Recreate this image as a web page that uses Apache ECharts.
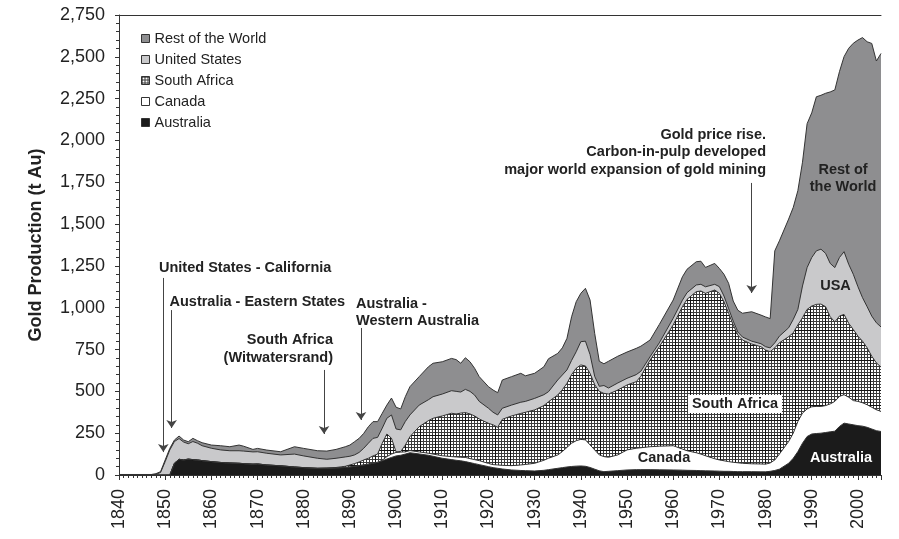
<!DOCTYPE html>
<html>
<head>
<meta charset="utf-8">
<script src="https://cdn.jsdelivr.net/npm/echarts@6/dist/echarts.min.js"></script>
<style>
  html, body { margin: 0; background: #fff; }
  #chart { width: 899px; height: 539px; }
</style>
</head>
<body>
<div id="chart"></div>
<script>
// years (value x axis), production in tonnes per layer
const years = [
  1840, 1847, 1848, 1849, 1850, 1851, 1852, 1853, 1854, 1855,
  1856, 1857, 1858, 1860, 1862, 1864, 1866, 1867, 1869, 1870,
  1872, 1875, 1878, 1880, 1883, 1885, 1887, 1889, 1890, 1891,
  1892, 1893, 1894, 1895, 1896, 1897, 1898, 1899, 1900, 1901,
  1902, 1903, 1905, 1907, 1908, 1910, 1912, 1913, 1914, 1915,
  1916, 1917, 1918, 1920, 1921, 1922, 1923, 1925, 1927, 1928,
  1930, 1932, 1933, 1935, 1936, 1937, 1938, 1939, 1940, 1941,
  1942, 1943, 1944, 1945, 1946, 1948, 1950, 1952, 1953, 1955,
  1957, 1960, 1962, 1963, 1965, 1966, 1967, 1969, 1970, 1971,
  1972, 1973, 1974, 1975, 1977, 1979, 1980, 1981, 1982, 1983,
  1985, 1986, 1987, 1988, 1989, 1990, 1991, 1992, 1993, 1994,
  1995, 1996, 1997, 1998, 1999, 2000, 2001, 2002, 2003, 2004,
  2005,
]
const australia = [
  0, 0, 0, 0, 0, 0, 70, 94, 90, 95,
  92, 90, 86, 80, 75, 72, 70, 68, 65, 66,
  60, 55, 48, 44, 40, 41, 42, 45, 48, 52,
  56, 60, 65, 70, 75, 85, 95, 105, 114, 118,
  125, 133, 126, 118, 112, 100, 92, 88, 85, 80,
  74, 68, 62, 50, 44, 40, 36, 30, 27, 26,
  24, 28, 32, 40, 44, 48, 51, 53, 54, 52,
  45, 35, 25, 20, 22, 26, 30, 32, 32, 32,
  31, 30, 29, 28, 27, 26, 25, 24, 23, 22,
  22, 21, 20, 20, 20, 19, 19, 22, 27, 35,
  70, 100, 140, 190, 230, 245, 248, 250, 254, 258,
  262, 290, 310, 305, 300, 295, 292, 285, 275, 265,
  260,
]
const canada = [
  0, 0, 0, 0, 0, 0, 0, 0, 0, 0,
  0, 0, 0, 0, 0, 0, 0, 0, 0, 0,
  0, 0, 0, 0, 0, 0, 0, 0, 0, 0,
  0, 0, 0, 0, 2, 3, 15, 20, 21, 19,
  13, 13, 12, 12, 13, 15, 18, 20, 21, 25,
  24, 24, 24, 19, 18, 20, 22, 26, 33, 37,
  46, 60, 68, 80, 96, 117, 139, 152, 159, 158,
  135, 115, 95, 90, 84, 94, 120, 128, 131, 137,
  141, 145, 126, 117, 106, 99, 90, 73, 67, 63,
  58, 55, 53, 50, 47, 47, 46, 50, 63, 90,
  130, 150, 180, 180, 165, 163, 162, 160, 161, 167,
  178, 180, 170, 160, 145, 145, 140, 135, 130, 125,
  120,
]
const southAfrica = [
  0, 0, 0, 0, 0, 0, 0, 0, 0, 0,
  0, 0, 0, 0, 0, 0, 0, 0, 0, 0,
  0, 0, 0, 0, 0, 0, 3, 7, 12, 16,
  22, 30, 35, 44, 48, 102, 135, 95, 3, 3,
  41, 83, 151, 195, 214, 238, 259, 257, 264, 268,
  267, 261, 249, 240, 238, 225, 275, 297, 308, 312,
  319, 327, 338, 358, 370, 383, 410, 433, 445, 442,
  428, 390, 380, 378, 378, 388, 388, 398, 427, 518,
  595, 722, 851, 905, 963, 975, 971, 1009, 996, 951,
  887, 821, 764, 737, 716, 701, 682, 665, 670, 665,
  627, 600, 577, 570, 595, 602, 610, 612, 591, 521,
  475, 480, 480, 442, 425, 390, 368, 340, 305, 280,
  265,
]
const unitedStates = [
  0, 0, 4, 15, 80, 150, 130, 124, 107, 92,
  108, 100, 89, 80, 75, 73, 75, 75, 73, 73,
  70, 65, 77, 70, 60, 53, 55, 56, 52, 52,
  57, 70, 90, 105, 100, 90, 94, 139, 137, 130,
  141, 130, 129, 125, 129, 131, 135, 135, 126, 139,
  135, 125, 105, 90, 75, 74, 66, 65, 67, 65,
  69, 65, 60, 90, 88, 80, 85, 99, 139, 148,
  112, 50, 30, 47, 36, 42, 40, 42, 30, 20,
  23, 40, 39, 40, 40, 40, 39, 34, 40, 34,
  28, 23, 18, 18, 17, 18, 20, 23, 30, 40,
  53, 80, 93, 190, 250, 290, 320, 328, 319, 319,
  325, 350, 375, 353, 330, 296, 260, 246, 240, 240,
  240,
]
const restOfWorld = [
  3, 3, 4, 5, 10, 9, 9, 15, 12, 12,
  19, 15, 18, 19, 25, 24, 34, 29, 15, 20,
  19, 19, 44, 45, 45, 49, 53, 61, 67, 79,
  84, 89, 99, 100, 94, 89, 79, 101, 130, 125,
  148, 169, 170, 197, 200, 193, 193, 190, 172, 189,
  177, 160, 148, 129, 133, 133, 169, 170, 173, 153,
  150, 167, 197, 159, 162, 189, 261, 299, 289, 316,
  326, 257, 150, 130, 160, 160, 157, 157, 150, 100,
  110, 109, 140, 140, 139, 138, 116, 125, 109, 130,
  151, 120, 130, 142, 176, 171, 178, 175, 550, 570,
  650, 670, 710, 740, 860, 865, 921, 920, 957, 1025,
  1062, 1111, 1166, 1291, 1381, 1474, 1555, 1584, 1630, 1565,
  1635,
]
const legendOrder = ['Rest of the World', 'United States', 'South Africa', 'Canada', 'Australia']

// annotation arrows: year, start and tip (t Au)
const arrowYears = [1849.6, 1851.4, 1884.4, 1892.4, 1977.0]
const arrowFrom = [1178, 986, 628, 879, 1746]
const arrowTo = [137, 281, 245, 329, 1088]

const FONT = '"Liberation Sans", Arial, sans-serif'
const BOLD = 'bold 14.5px ' + FONT
const INK = '#222'
const LINE = '#333'

// crosshatch tile: fine 3px grid with a darker line every fifth cell
function hatch() {
  const c = document.createElement('canvas')
  c.width = 15; c.height = 15
  const g = c.getContext('2d')
  g.fillStyle = '#fff'; g.fillRect(0, 0, 15, 15)
  g.fillStyle = '#3c3c3c'
  for (let k = 0; k < 15; k += 3) { g.fillRect(0, k, 15, 1); g.fillRect(k, 0, 1, 15) }
  g.fillStyle = '#111'
  g.fillRect(0, 0, 15, 1); g.fillRect(0, 0, 1, 15)
  return { image: c, repeat: 'repeat' }
}
const HATCH = hatch()

const layers = [
  { name: 'Australia', values: australia, fill: '#1b1b1b' },
  { name: 'Canada', values: canada, fill: '#ffffff' },
  { name: 'South Africa', values: southAfrica, fill: HATCH },
  { name: 'United States', values: unitedStates, fill: '#c9c9cb' },
  { name: 'Rest of the World', values: restOfWorld, fill: '#8e8e90' },
]
// running totals; drawn top layer first so each lower area paints over it
let running = years.map(() => 0)
layers.forEach((l) => {
  running = running.map((v, i) => v + l.values[i])
  l.top = running.slice()
})

const series = layers.slice().reverse().map((l) => ({
  name: l.name, type: 'line', symbol: 'none', silent: true,
  data: years.map((y, i) => [y, l.top[i]]),
  lineStyle: { color: LINE, width: 1 },
  itemStyle: { color: l.fill },
  areaStyle: { color: l.fill, opacity: 1 },
}))
series.push({
  name: 'notes', type: 'scatter', data: [], silent: true,
  markLine: {
    silent: true, symbol: ['none', 'arrow'], symbolSize: 8,
    label: { show: false },
    lineStyle: { type: 'solid', width: 1, color: '#444' },
    data: arrowYears.map((y, i) => [{ coord: [y, arrowFrom[i]] }, { coord: [y, arrowTo[i]] }]),
  },
})

const legendData = legendOrder.map((n) => {
  const l = layers.find((x) => x.name === n)
  return { name: n, itemStyle: { color: l.fill, borderColor: LINE, borderWidth: 1 } }
})

function txt(text, x, y, align, fill) {
  return { type: 'text', x, y, z: 100, silent: true,
    style: { text, font: BOLD, fill: fill || INK, textAlign: align, textVerticalAlign: 'middle' } }
}

const chart = echarts.init(document.getElementById('chart'))
chart.setOption({
  animation: false,
  backgroundColor: '#fff',
  grid: { left: 119, right: 18, top: 15, bottom: 64 },
  legend: {
    orient: 'vertical', left: 136, top: 26, itemWidth: 8, itemHeight: 8, itemGap: 6,
    icon: 'rect', selectedMode: false,
    textStyle: { fontSize: 14.5, color: INK, fontFamily: FONT, lineHeight: 14 },
    data: legendData,
  },
  xAxis: [
    {
      type: 'value', min: 1840, max: 2005, interval: 10,
      axisLine: { lineStyle: { color: LINE } },
      axisTick: { length: 5, lineStyle: { color: LINE } },
      minorTick: { show: true, splitNumber: 10, length: 3, lineStyle: { color: LINE } },
      splitLine: { show: false },
      axisLabel: { rotate: 90, margin: 14, fontSize: 18, color: INK, fontFamily: FONT,
        showMaxLabel: false, formatter: (v) => String(v) },
    },
    {
      type: 'value', position: 'top', min: 1840, max: 2005,
      axisLine: { show: true, lineStyle: { color: LINE } },
      axisTick: { show: false }, axisLabel: { show: false }, splitLine: { show: false },
    },
  ],
  yAxis: {
    type: 'value', min: 0, max: 2750, interval: 250,
    name: 'Gold Production (t Au)', nameLocation: 'middle', nameGap: 74,
    nameTextStyle: { fontSize: 18, fontWeight: 'bold', color: INK, fontFamily: FONT },
    axisLine: { show: true, lineStyle: { color: LINE } },
    axisTick: { show: true, length: 4, lineStyle: { color: LINE } },
    minorTick: { show: true, splitNumber: 5, length: 3, lineStyle: { color: LINE } },
    splitLine: { show: false },
    axisLabel: { fontSize: 18, color: INK, fontFamily: FONT, margin: 14,
      formatter: (v) => v.toLocaleString('en-US') },
  },
  series,
  graphic: [
    txt('United States - California', 159, 267.5, 'left'),
    txt('Australia - Eastern States', 169.5, 302, 'left'),
    txt('South Africa', 333, 340, 'right'),
    txt('(Witwatersrand)', 333, 357.5, 'right'),
    txt('Australia -', 356, 304, 'left'),
    txt('Western Australia', 356, 321, 'left'),
    txt('Gold price rise.', 766, 134.5, 'right'),
    txt('Carbon-in-pulp developed', 766, 152, 'right'),
    txt('major world expansion of gold mining', 766, 170, 'right'),
    txt('Rest of', 843, 170, 'center'),
    txt('the World', 843, 187, 'center'),
    txt('USA', 835.5, 286, 'center'),
    { type: 'rect', z: 99, silent: true, shape: { x: 688, y: 395, width: 94, height: 18 }, style: { fill: '#fff' } },
    txt('South Africa', 735, 404, 'center'),
    txt('Canada', 664, 458, 'center'),
    txt('Australia', 841, 457.5, 'center', '#fff'),
  ],
})
window.addEventListener('resize', () => chart.resize())
</script>
</body>
</html>
